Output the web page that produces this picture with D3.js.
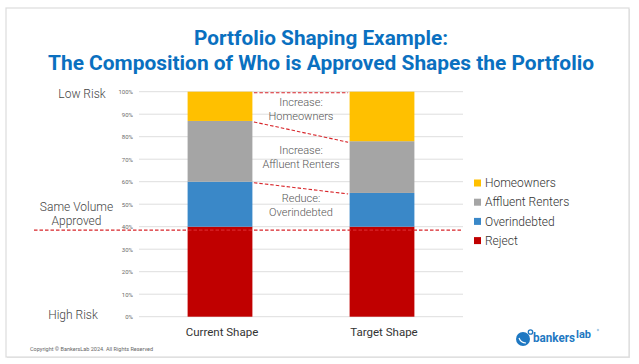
<!DOCTYPE html>
<html>
<head>
<meta charset="utf-8">
<script src="https://cdn.jsdelivr.net/npm/d3@7"></script>
<style>
  body { margin: 0; background: #fff; }
  text { font-family: Roboto, "Noto Sans", sans-serif; }
</style>
</head>
<body>
<svg id="chart" width="639" height="364"></svg>
<script>
// data
const shapes = ['Current Shape', 'Target Shape']
const segments = ['Reject', 'Overindebted', 'Affluent Renters', 'Homeowners']
const reject = [40, 40]
const overindebted = [20, 15]
const affluentRenters = [27, 23]
const homeowners = [13, 22]
const yTicks = [0, 10, 20, 30, 40, 50, 60, 70, 80, 90, 100]
const segColors = ['#C00000', '#3A88C8', '#A5A5A5', '#FFC000']
const notes = [
  ['Reduce:', 'Overindebted'],
  ['Increase:', 'Affluent Renters'],
  ['Increase:', 'Homeowners']
]
const sameVolume = 38.5
const titleLines = ['Portfolio Shaping Example:', 'The Composition of Who is Approved Shapes the Portfolio']

const svg = d3.select('#chart')
const red = '#D8262B'

// card
svg.append('rect')
  .attr('x', 7).attr('y', 9).attr('width', 623).attr('height', 349)
  .attr('fill', '#e6e6e6')
svg.append('rect')
  .attr('x', 6).attr('y', 8).attr('width', 623).attr('height', 349)
  .attr('fill', '#fff')
  .attr('stroke', '#dcdcdc')
  .attr('stroke-width', 1.2)

// title
svg.append('g')
  .selectAll('text')
  .data(titleLines)
  .enter()
  .append('text')
  .attr('x', 321)
  .attr('y', (d, i) => 45 + i * 24.5)
  .attr('text-anchor', 'middle')
  .attr('font-size', 21)
  .attr('font-weight', 700)
  .attr('fill', '#0A70C0')
  .attr('textLength', (d, i) => i ? 546 : 254)
  .attr('lengthAdjust', 'spacingAndGlyphs')
  .text(d => d)

const x = d3.scaleBand()
  .domain(shapes)
  .range([139, 463])
  .paddingInner(0.6)
  .paddingOuter(0.3)

const y = d3.scaleLinear()
  .domain([0, 100])
  .range([316.7, 91.7])

// gridlines
svg.append('g')
  .selectAll('line')
  .data(yTicks)
  .enter()
  .append('line')
  .attr('x1', 139)
  .attr('x2', 463)
  .attr('y1', d => y(d))
  .attr('y2', d => y(d))
  .attr('stroke', '#dedede')
  .attr('stroke-width', 1)

// tick labels
const yAxis = svg.append('g')
  .attr('transform', 'translate(133,0)')
  .call(d3.axisLeft(y).tickValues(yTicks).tickSize(0).tickPadding(0).tickFormat(d => d + '%'))
yAxis.select('.domain').remove()
yAxis.selectAll('text')
  .attr('font-size', 6)
  .attr('fill', '#6b6b6b')
  .style('font-family', 'Roboto, sans-serif')

// stacked bars
const rows = shapes.map((s, i) => ({
  shape: s,
  'Reject': reject[i],
  'Overindebted': overindebted[i],
  'Affluent Renters': affluentRenters[i],
  'Homeowners': homeowners[i]
}))
const stacked = d3.stack().keys(segments)(rows)

svg.append('g')
  .selectAll('g')
  .data(stacked)
  .enter()
  .append('g')
  .attr('fill', (d, i) => segColors[i])
  .selectAll('rect')
  .data(d => d)
  .enter()
  .append('rect')
  .attr('x', d => x(d.data.shape))
  .attr('width', x.bandwidth())
  .attr('y', d => y(d[1]))
  .attr('height', d => y(d[0]) - y(d[1]))

// series lines between the bars (top of each segment above reject)
const x0 = x(shapes[0]) + x.bandwidth() + 1.5
const x1 = x(shapes[1]) - 1.5
svg.append('g')
  .selectAll('line')
  .data(stacked.slice(1))
  .enter()
  .append('line')
  .attr('x1', x0)
  .attr('x2', x1)
  .attr('y1', d => y(d[0][1]) + 1)
  .attr('y2', d => y(d[1][1]) + 1)
  .attr('stroke', red)
  .attr('stroke-width', 1.1)
  .attr('stroke-dasharray', '3.5,2')

// notes between bars, centred on the average of the segment midpoints
const notesG = svg.append('g')
stacked.slice(1).forEach((seg, i) => {
  const mid = ((seg[0][0] + seg[0][1]) / 2 + (seg[1][0] + seg[1][1]) / 2) / 2
  const cy = y(mid) - 2
  notesG.selectAll(null)
    .data(notes[i])
    .enter()
    .append('text')
    .attr('x', (x0 + x1) / 2)
    .attr('y', (d, j) => cy - 3 + j * 14)
    .attr('text-anchor', 'middle')
    .attr('font-size', 11)
    .attr('font-weight', 300)
    .attr('fill', '#555')
    .text(d => d)
})

// same volume line
svg.append('line')
  .attr('x1', 34)
  .attr('x2', 463)
  .attr('y1', y(sameVolume))
  .attr('y2', y(sameVolume))
  .attr('stroke', red)
  .attr('stroke-width', 1.1)
  .attr('stroke-dasharray', '3.5,2')

// risk labels on the left
const sideLabels = [
  { text: 'Low Risk', cx: 82, cy: y(100) + 2 },
  { text: 'Same Volume', cx: 76.5, cy: y(sameVolume) - 23.5 },
  { text: 'Approved', cx: 76.5, cy: y(sameVolume) - 9.5 },
  { text: 'High Risk', cx: 73, cy: y(0) - 2 }
]
svg.append('g')
  .selectAll('text')
  .data(sideLabels)
  .enter()
  .append('text')
  .attr('x', d => d.cx)
  .attr('y', d => d.cy)
  .attr('dy', '0.35em')
  .attr('text-anchor', 'middle')
  .attr('font-size', 12)
  .attr('font-weight', 300)
  .attr('fill', '#444')
  .text(d => d.text)

// category labels
svg.append('g')
  .selectAll('text')
  .data(shapes)
  .enter()
  .append('text')
  .attr('x', d => x(d) + x.bandwidth() / 2 + 2)
  .attr('y', 336)
  .attr('text-anchor', 'middle')
  .attr('font-size', 11.5)
  .attr('fill', '#333')
  .text(d => d)

// legend
const legend = svg.append('g')
  .attr('transform', 'translate(474,183)')
  .selectAll('g')
  .data(segments.slice().reverse())
  .enter()
  .append('g')
  .attr('transform', (d, i) => `translate(0,${i * 19.2})`)
legend.append('rect')
  .attr('x', 0).attr('y', -3.5)
  .attr('width', 7).attr('height', 7)
  .attr('fill', d => segColors[segments.indexOf(d)])
legend.append('text')
  .attr('x', 11)
  .attr('dy', '0.35em')
  .attr('font-size', 12)
  .attr('font-weight', 300)
  .attr('fill', '#333')
  .text(d => d)

// footer
svg.append('text')
  .attr('x', 30)
  .attr('y', 351)
  .attr('font-size', 5.5)
  .attr('fill', '#666')
  .text('Copyright © BankersLab 2024. All Rights Reserved')

// logo
const logo = svg.append('g').attr('transform', 'translate(516,330)')
logo.append('circle')
  .attr('cx', 7).attr('cy', 9).attr('r', 7)
  .attr('fill', '#1E78C2')
logo.append('circle')
  .attr('cx', 14.5).attr('cy', 2).attr('r', 2.2)
  .attr('fill', 'none')
  .attr('stroke', '#1E78C2')
  .attr('stroke-width', 1.3)
logo.append('path')
  .attr('d', 'M3,8 Q5,13 10,13')
  .attr('fill', 'none')
  .attr('stroke', '#fff')
  .attr('stroke-width', 1.2)
logo.append('text')
  .attr('x', 17).attr('y', 12)
  .attr('font-size', 12)
  .attr('font-weight', 700)
  .attr('fill', '#1E78C2')
  .attr('textLength', 42)
  .attr('lengthAdjust', 'spacingAndGlyphs')
  .text('bankers')
logo.append('text')
  .attr('x', 60).attr('y', 8)
  .attr('font-size', 11)
  .attr('font-weight', 700)
  .attr('fill', '#1E78C2')
  .text('lab')
logo.append('circle')
  .attr('cx', 82).attr('cy', 0).attr('r', 0.8)
  .attr('fill', 'none')
  .attr('stroke', '#1E78C2')
  .attr('stroke-width', 0.4)
</script>
</body>
</html>
